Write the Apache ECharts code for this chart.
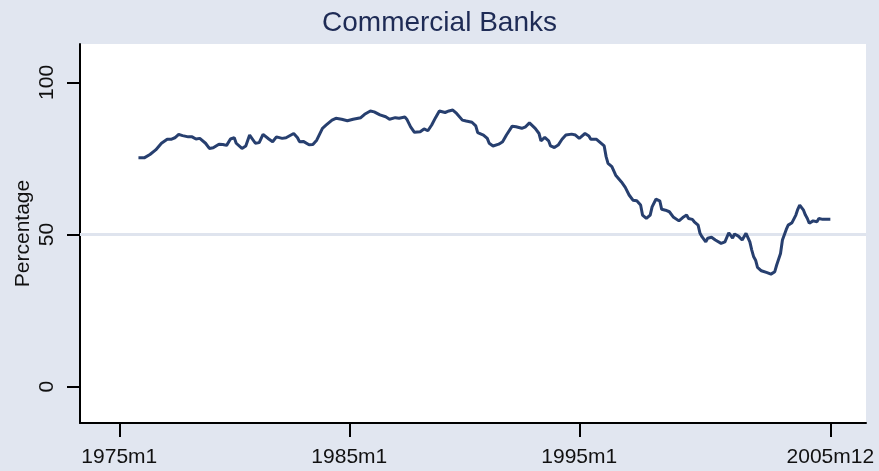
<!DOCTYPE html>
<html>
<head>
<meta charset="utf-8">
<script src="https://cdn.jsdelivr.net/npm/echarts@6/dist/echarts.min.js"></script>
<style>
html,body{margin:0;padding:0;background:#e1e6f0;}
#chart{width:879px;height:471px;}
</style>
</head>
<body>
<div id="chart"></div>
<script>
const dates = [
"1975m11","1976m2","1976m5","1976m8","1976m11","1977m2","1977m4","1977m6","1977m8","1977m10",
"1978m1","1978m3","1978m5","1978m7","1978m10","1978m12","1979m2","1979m5","1979m7","1979m9",
"1979m11","1980m1","1980m2","1980m5","1980m7","1980m9","1980m12","1981m2","1981m4","1981m7",
"1981m9","1981m11","1982m2","1982m4","1982m8","1982m10","1982m11","1983m1","1983m4","1983m6",
"1983m8","1983m11","1984m1","1984m4","1984m6","1984m9","1984m12","1985m3","1985m7","1985m9",
"1985m12","1986m2","1986m5","1986m8","1986m10","1987m1","1987m3","1987m6","1987m7","1987m9",
"1987m11","1988m2","1988m4","1988m6","1988m8","1988m10","1988m12","1989m3","1989m5","1989m7",
"1989m9","1989m12","1990m2","1990m5","1990m7","1990m8","1990m11","1991m1","1991m2","1991m4",
"1991m7","1991m9","1991m11","1992m2","1992m4","1992m7","1992m9","1992m10","1992m11","1993m2",
"1993m4","1993m5","1993m7","1993m9","1993m10","1993m12","1994m2","1994m4","1994m6","1994m9",
"1994m11","1995m1","1995m2","1995m4","1995m6","1995m7","1995m10","1995m12","1996m2","1996m3",
"1996m4","1996m6","1996m8","1996m9","1996m11","1997m1","1997m3","1997m5","1997m7","1997m9",
"1997m10","1997m12","1998m2","1998m3","1998m5","1998m7","1998m8","1998m10","1998m12","1999m2",
"1999m3","1999m5","1999m7","1999m9","1999m10","1999m12","2000m1","2000m3","2000m4","2000m5",
"2000m7","2000m8","2000m10","2000m12","2001m1","2001m3","2001m5","2001m7","2001m9","2001m10",
"2001m12","2002m2","2002m4","2002m6","2002m7","2002m8","2002m9","2002m10","2002m12","2003m3",
"2003m5","2003m7","2003m8","2003m10","2003m11","2004m1","2004m2","2004m4","2004m6","2004m7",
"2004m8","2004m10","2004m11","2004m12","2005m1","2005m3","2005m5","2005m6","2005m8","2005m10",
"2005m12"
];
const percentage = [
75.2,75.2,76.3,77.8,80.0,81.3,81.3,81.8,82.9,82.5,
82.1,82.1,81.4,81.6,80.0,78.3,78.5,79.7,79.6,79.3,
81.4,81.8,80.0,78.3,79.1,82.7,80.0,80.2,82.9,81.4,
80.5,82.1,81.6,81.8,83.2,81.8,80.5,80.6,79.5,79.6,
81.0,84.9,86.0,87.6,88.2,87.9,87.4,87.9,88.4,89.5,
90.6,90.3,89.3,88.7,87.9,88.4,88.2,88.6,87.9,85.4,
83.6,83.8,84.7,84.1,86.0,88.4,90.6,90.1,90.6,90.9,
89.8,87.6,87.3,86.9,85.7,83.5,82.7,81.6,80.0,79.1,
79.7,80.5,82.7,85.6,85.4,84.9,85.4,84.9,86.7,84.9,
83.2,80.8,81.9,80.8,79.1,78.6,79.4,81.3,82.7,83.0,
82.7,81.6,82.1,83.2,82.4,81.3,81.3,80.2,79.1,75.6,
73.4,72.3,69.5,69.0,67.3,65.5,63.0,61.3,61.1,59.7,
56.4,55.3,56.4,59.1,61.6,61.1,58.3,58.0,57.5,55.8,
56.4,54.5,55.6,56.4,55.3,55.0,54.2,53.1,50.4,49.3,
47.6,48.8,49.1,48.2,48.8,47.1,47.6,50.6,48.8,50.2,
49.5,48.2,50.4,47.6,44.9,42.7,41.6,39.2,38.1,37.5,
37.0,37.8,40.0,43.8,48.2,51.7,53.1,53.9,56.4,58.3,
59.7,58.0,56.4,55.3,53.7,54.5,54.2,55.3,55.0,55.0,
55.0
];
const xTickLabels = ["1975m1","1985m1","1995m1","2005m12"];
const yTickValues = [0, 50, 100];
const gridValue = 50;

// months since 1975m1
function monthIndex(s){
  const p = s.split("m");
  return (parseInt(p[0],10) - 1975) * 12 + (parseInt(p[1],10) - 1);
}
const X_MIN = -20.5, X_MAX = 389.6, Y_MIN = -11.9, Y_MAX = 112.6;
const xTickValues = xTickLabels.map(monthIndex);
const seriesData = dates.map((d,i)=>[monthIndex(d), percentage[i]]);
const labelOf = {};
xTickValues.forEach((v,i)=>{ labelOf[v] = xTickLabels[i]; });

const FONT = "'Liberation Sans', Arial, sans-serif";
const chart = echarts.init(document.getElementById('chart'), null, {renderer:'canvas'});
chart.setOption({
  backgroundColor: '#e1e6f0',
  animation: false,
  title: {
    text: 'Commercial Banks',
    left: 'center',
    top: 4,
    textStyle: {fontFamily: FONT, fontSize: 28, fontWeight: 'normal', color: '#1e2b55'}
  },
  grid: {
    left: 80, right: 13, top: 44, bottom: 48,
    show: true, backgroundColor: '#ffffff', borderWidth: 0
  },
  xAxis: {
    type: 'value',
    min: X_MIN, max: X_MAX,
    axisLine: {show: true, onZero: false, lineStyle: {color: '#000', width: 2}},
    axisTick: {show: true, length: 14, customValues: xTickValues, lineStyle: {color: '#000', width: 2}},
    axisLabel: {
      customValues: xTickValues,
      margin: 24,
      fontFamily: FONT, fontSize: 21, color: '#111',
      formatter: v => labelOf[v] || ''
    },
    splitLine: {show: false}
  },
  yAxis: {
    type: 'value',
    min: Y_MIN, max: Y_MAX,
    name: 'Percentage',
    nameLocation: 'middle',
    nameRotate: 90,
    nameGap: 46,
    nameMoveOverlap: false,
    nameTextStyle: {fontFamily: FONT, fontSize: 21, color: '#111'},
    axisLine: {show: true, onZero: false, lineStyle: {color: '#000', width: 2}},
    axisTick: {show: true, length: 13, customValues: yTickValues, lineStyle: {color: '#000', width: 2}},
    axisLabel: {
      customValues: yTickValues,
      rotate: 90,
      margin: 33,
      fontFamily: FONT, fontSize: 21, color: '#111',
      verticalAlign: 'middle'
    },
    splitLine: {show: false}
  },
  series: [
    {
      // horizontal gridline at 50, drawn under the data line
      type: 'line',
      data: [[X_MIN, gridValue], [X_MAX, gridValue]],
      z: 1,
      silent: true,
      showSymbol: false,
      symbol: 'none',
      lineStyle: {color: '#dfe4ee', width: 3},
      emphasis: {disabled: true}
    },
    {
      type: 'line',
      data: seriesData,
      z: 3,
      showSymbol: false,
      symbol: 'none',
      smooth: false,
      lineStyle: {color: '#273f6f', width: 3},
      emphasis: {disabled: true}
    }
  ]
});
</script>
</body>
</html>
